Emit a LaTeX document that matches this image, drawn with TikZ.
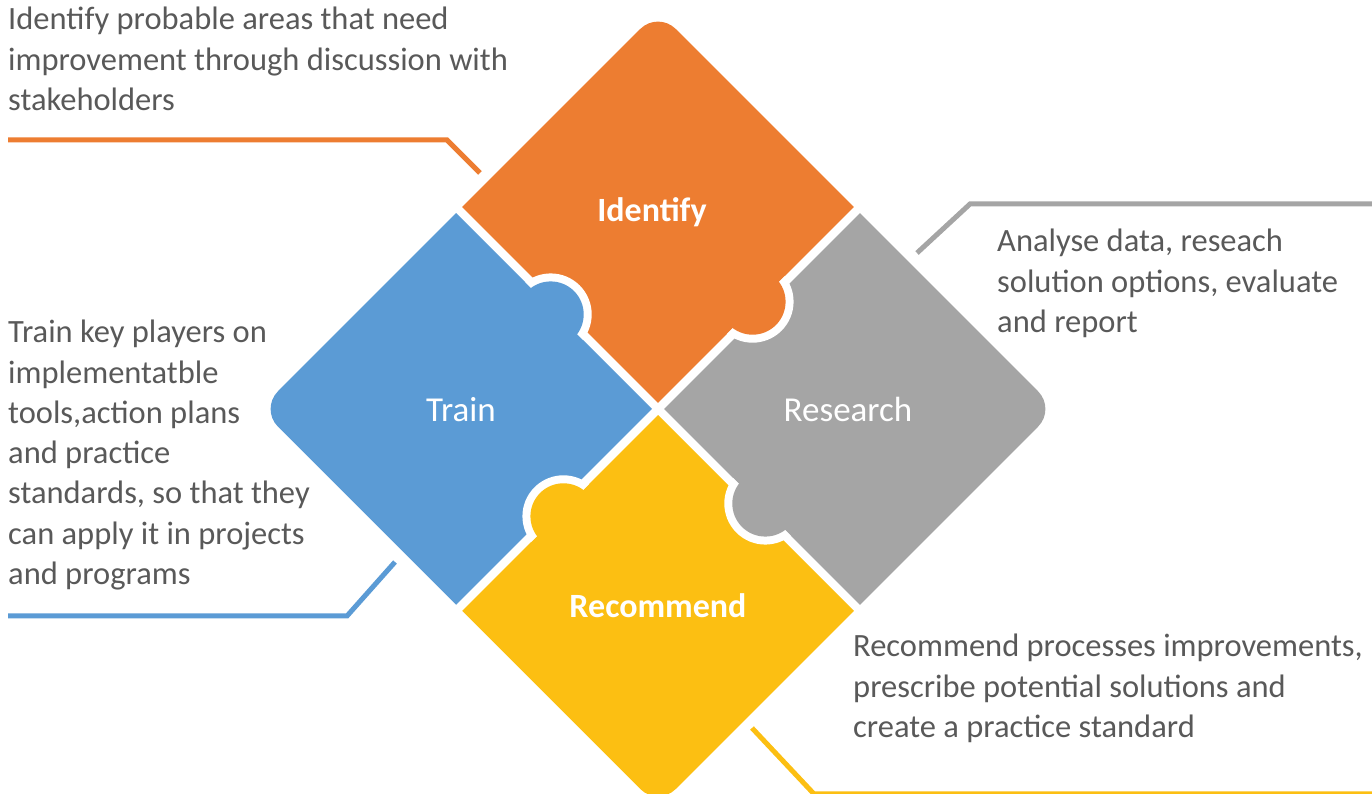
\documentclass[tikz,border=0pt]{standalone}
\usepackage{fontspec}
\setmainfont{Carlito}
\usetikzlibrary{positioning,calc}
\definecolor{idorange}{HTML}{ED7D31}
\definecolor{trblue}{HTML}{5B9BD5}
\definecolor{rsgray}{HTML}{A5A5A5}
\definecolor{rcyellow}{HTML}{FCBF12}
\definecolor{txtgray}{HTML}{595959}

\begin{document}
\begin{tikzpicture}[x=1pt,y=1pt]
  \tikzstyle{desc}=[anchor=north west, inner sep=0pt, align=left, text=txtgray, font=\fontsize{32.5}{40.3}\selectfont]
  \tikzstyle{tag}=[text=white, inner sep=0pt, font=\fontsize{35}{40}\selectfont]
  \tikzstyle{tagb}=[text=white, inner sep=0pt, font=\fontsize{34}{40}\selectfont\bfseries]
  \tikzstyle{lead}=[line width=5pt]

  \useasboundingbox (0,0) rectangle (1372,794);
  \coordinate (o) at (658,385);

  % Piezas del rompecabezas
  \foreach \ang/\col in {45/idorange,135/trblue,225/rcyellow,315/rsgray}{
    \fill[\col, shift={(o)}, rotate=\ang] (4.25,4.25) -- (281.25,4.25) -- (281.25,256.25)
      arc[start angle=0, end angle=90, radius=25] -- (4.25,281.25) -- cycle;
  }

  % Lengüetas
  \foreach \ang/\col in {45/idorange,135/trblue,225/rcyellow,315/rsgray}{
    \begin{scope}[shift={(o)}, rotate=\ang]
      \begin{scope}
        \clip (-10,4.25) rectangle (300,-60);
        \fill[white] (142.75,9) circle (41);
      \end{scope}
      \fill[\col] (142.75,9) circle (33);
    \end{scope}
  }

  % Etiquetas
  \node[tagb] (identify) at (652,582) {Identify};
  \node[tag] (train) at (461,384) {Train};
  \node[tag] (research) at (848,385) {Research};
  \node[tagb] (recommend) at (658,188) {Recommend};

  % Textos
  \node[desc] (idtext) at (8,787) {Identify probable areas that need\\improvement through discussion with\\stakeholders};
  \node[desc] (rstext) at (997,565) {Analyse data, reseach\\solution options, evaluate\\and report};
  \node[desc] (trtext) at (8,474) {Train key players on\\implementatble\\tools,action plans\\and practice\\standards, so that they\\can apply it in projects\\and programs};
  \node[desc] (rctext) at (853,160) {Recommend processes improvements,\\prescribe potential solutions and\\create a practice standard};

  % Líneas guía
  \coordinate (idA) at (8,654);
  \coordinate (idB) at (447,654);
  \coordinate (idC) at (480,621);
  \draw[lead, idorange] (idA) -- (idB) -- (idC);
  \coordinate (rsA) at (917,541);
  \coordinate (rsB) at (970,590);
  \coordinate (rsC) at (1372,590);
  \draw[lead, rsgray] (rsA) -- (rsB) -- (rsC);
  \coordinate (trA) at (8,178);
  \coordinate (trB) at (347,178);
  \coordinate (trC) at (395,232);
  \draw[lead, trblue] (trA) -- (trB) -- (trC);
  \coordinate (rcA) at (752,66);
  \coordinate (rcB) at (814,0);
  \coordinate (rcC) at (1372,0);
  \draw[lead, rcyellow] (rcA) -- (rcB) -- (rcC);
\end{tikzpicture}
\end{document}
